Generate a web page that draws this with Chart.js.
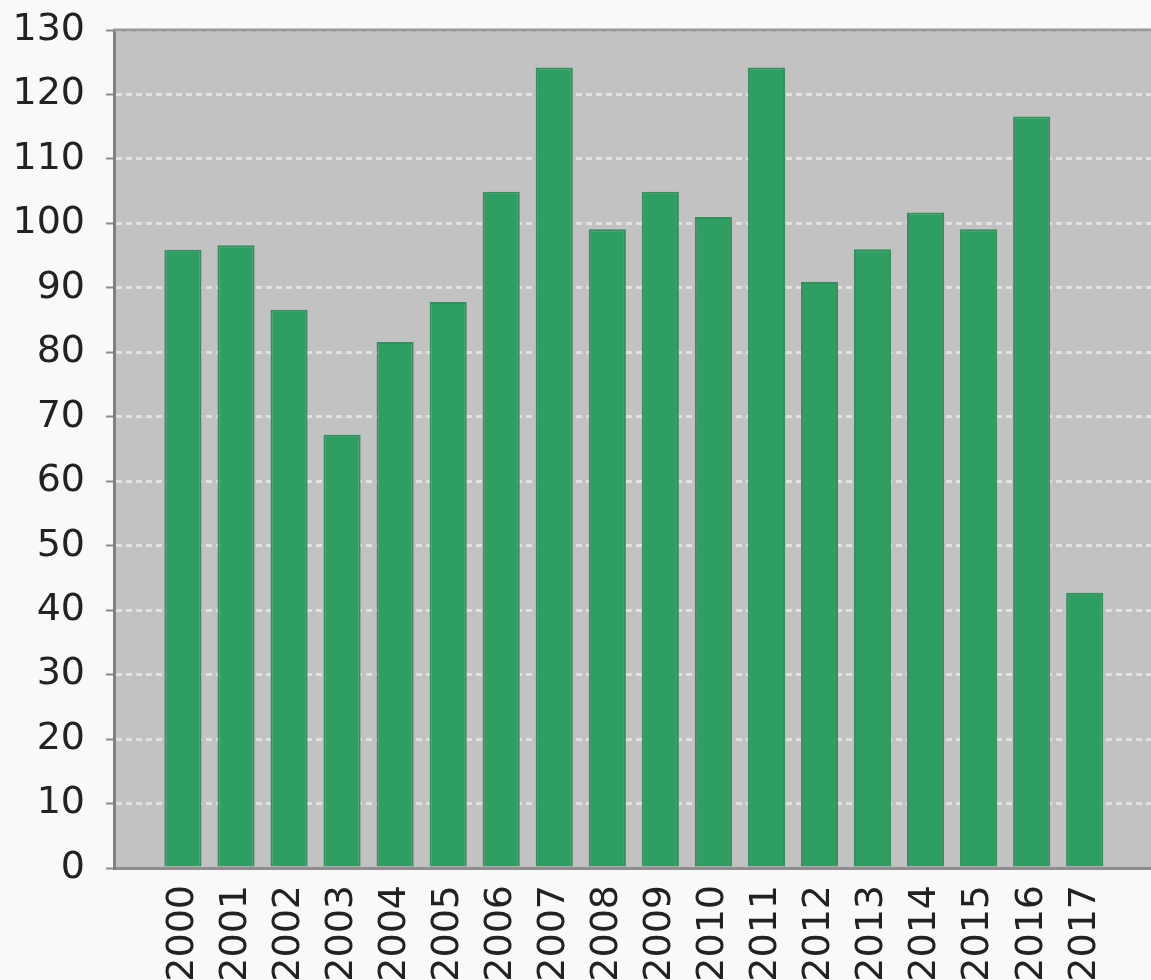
<!DOCTYPE html>
<html>
<head>
<meta charset="utf-8">
<script src="https://cdn.jsdelivr.net/npm/chart.js@4/dist/chart.umd.min.js"></script>
<style>
  html, body { margin: 0; padding: 0; background: #f9f9f9; }
  #wrap { width: 1151px; height: 980px; position: relative; }
</style>
</head>
<body>
<div id="wrap"><canvas id="bar-chart"></canvas></div>
<script>
// Données du graphique
const years = [2000, 2001, 2002, 2003, 2004, 2005, 2006, 2007, 2008,
               2009, 2010, 2011, 2012, 2013, 2014, 2015, 2016, 2017];
const values = [95.9, 96.6, 86.6, 67.2, 81.6, 87.8, 104.9, 124.2, 99.1,
                104.9, 101.0, 124.2, 90.9, 96.0, 101.7, 99.1, 116.6, 42.7];
const yTicks = [0, 10, 20, 30, 40, 50, 60, 70, 80, 90, 100, 110, 120, 130];

// Fond gris de la zone de tracé + bordure du haut
const plotBackground = {
  id: 'plotBackground',
  beforeDraw(chart) {
    const { ctx, chartArea: a } = chart;
    ctx.save();
    ctx.fillStyle = '#c2c2c2';
    ctx.fillRect(a.left, a.top, a.right - a.left, a.bottom - a.top);
    ctx.restore();
  },
  beforeDatasetsDraw(chart) {
    const { ctx, chartArea: a } = chart;
    ctx.save();
    ctx.strokeStyle = '#9a9a9a';
    ctx.lineWidth = 3;
    ctx.beginPath();
    ctx.moveTo(a.left, a.top);
    ctx.lineTo(a.right, a.top);
    ctx.stroke();
    ctx.restore();
  }
};

function initializeChart(chartId) {
  const canvas = document.getElementById(chartId);
  if (!canvas) return;
  const ctx = canvas.getContext('2d');

  const chart = new Chart(ctx, {
    type: 'bar',
    data: {
      datasets: [{
        data: years.map((yr, i) => ({ x: yr, y: values[i] })),
        backgroundColor: '#2f9e63',
        borderColor: '#3a8b5e',
        borderWidth: 2,
        barPercentage: 0.7,
        categoryPercentage: 1
      }]
    },
    options: {
      responsive: true,
      maintainAspectRatio: false,
      animation: false,
      layout: { padding: { top: 30, left: 0, right: 0, bottom: 0 } },
      plugins: {
        legend: { display: false },
        tooltip: { enabled: false }
      },
      scales: {
        x: {
          type: 'linear',
          offset: false,
          min: 1998.7,
          max: 2018.25,
          afterBuildTicks: s => { s.ticks = years.map(v => ({ value: v })); },
          afterFit: s => { s.height = 112; },
          grid: { display: false, drawTicks: false, offset: false },
          border: { display: true, color: '#8e8e8e', width: 3 },
          ticks: {
            autoSkip: false,
            minRotation: 90,
            maxRotation: 90,
            padding: 17,
            color: '#222',
            font: { family: 'DejaVu Sans', size: 38 },
            callback: v => String(v)
          }
        },
        y: {
          min: 0,
          max: 130,
          afterBuildTicks: s => { s.ticks = yTicks.map(v => ({ value: v })); },
          afterFit: s => { s.width = 114; s.paddingTop = 0; s.paddingBottom = 0; },
          grid: {
            color: 'rgba(255,255,255,0.5)',
            lineWidth: 3,
            tickLength: 8,
            tickColor: '#8a8a8a',
            tickWidth: 2
          },
          border: { display: true, color: '#808080', width: 3, dash: [6, 4] },
          ticks: {
            padding: 21,
            color: '#222',
            font: { family: 'DejaVu Sans', size: 38 }
          }
        }
      }
    },
    plugins: [plotBackground]
  });

  canvas.chart = chart;
  return chart;
}

initializeChart('bar-chart');
</script>
</body>
</html>
